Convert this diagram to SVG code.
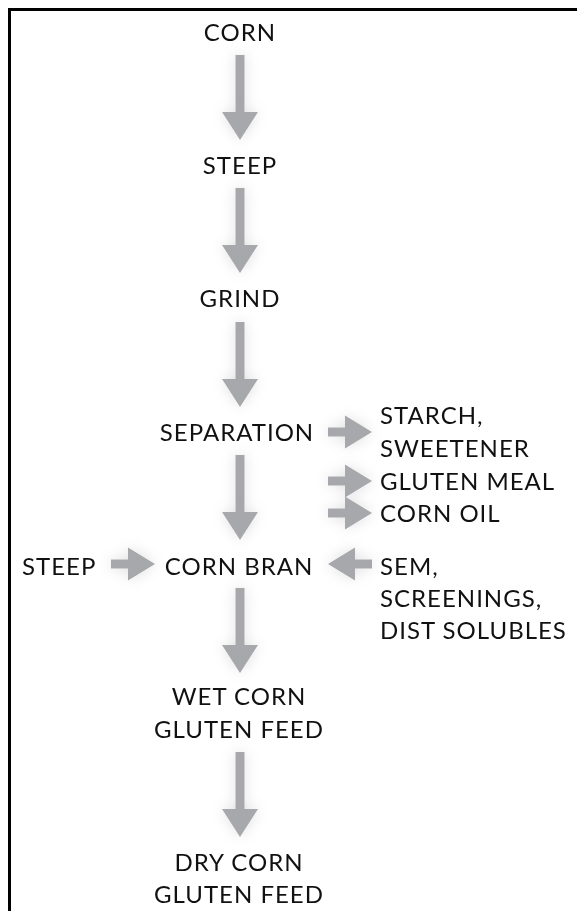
<svg xmlns="http://www.w3.org/2000/svg" xmlns:xlink="http://www.w3.org/1999/xlink" width="577" height="911" viewBox="0 0 577 911">
  <style>
    text { font-family: Lato, "Open Sans", "DejaVu Sans", sans-serif; font-size: 24px; letter-spacing: 1px; fill: #111111; }
    .c { text-anchor: middle; }
    .l { text-anchor: start; }
    .arrow { fill: #a7a8ab; }
  </style>
  <defs>
    <filter id="glow" x="-100%" y="-50%" width="300%" height="200%">
      <feGaussianBlur in="SourceAlpha" stdDeviation="7" result="b"/>
      <feFlood flood-color="#000000" flood-opacity="0.13"/>
      <feComposite in2="b" operator="in" result="s"/>
      <feMerge>
        <feMergeNode in="s"/>
        <feMergeNode in="SourceGraphic"/>
      </feMerge>
    </filter>
    <path id="down" class="arrow" d="M-4.5,0 H4.5 V57 H18 L0,85 L-18,57 H-4.5 Z"/>
    <path id="right" class="arrow" d="M0,-4.5 H17 V-16.5 L44,0 L17,16.5 V4.5 H0 Z"/>
  </defs>
  <rect x="0" y="0" width="577" height="911" fill="#ffffff"/>
  <path d="M9.5,911 V9.5 H577" fill="none" stroke="#000000" stroke-width="3"/>

  <g id="connectors" filter="url(#glow)">
    <use xlink:href="#down" x="240" y="55"/>
    <use xlink:href="#down" x="240" y="188"/>
    <use xlink:href="#down" x="240" y="322"/>
    <use xlink:href="#down" x="240" y="455"/>
    <use xlink:href="#down" x="240" y="588"/>
    <use xlink:href="#down" x="240" y="752"/>
    <use xlink:href="#right" x="328" y="432"/>
    <use xlink:href="#right" x="328" y="481"/>
    <use xlink:href="#right" x="328" y="513"/>
    <use xlink:href="#right" x="111" y="564"/>
    <use xlink:href="#right" transform="translate(372,564) scale(-1,1)"/>
  </g>

  <g id="corn"><text class="c" x="240" y="41">CORN</text></g>
  <g id="steep"><text class="c" x="240" y="174">STEEP</text></g>
  <g id="grind"><text class="c" x="240" y="307">GRIND</text></g>
  <g id="separation"><text class="c" x="237" y="441">SEPARATION</text></g>
  <g id="starch"><text class="l" x="380" y="424">STARCH,</text><text class="l" x="380" y="457">SWEETENER</text></g>
  <g id="gluten-meal"><text class="l" x="380" y="490">GLUTEN MEAL</text></g>
  <g id="corn-oil"><text class="l" x="380" y="522">CORN OIL</text></g>
  <g id="steep-in"><text class="l" x="22" y="575">STEEP</text></g>
  <g id="corn-bran"><text class="c" x="239" y="575">CORN BRAN</text></g>
  <g id="sem"><text class="l" x="380" y="575">SEM,</text><text class="l" x="380" y="607">SCREENINGS,</text><text class="l" x="380" y="639">DIST SOLUBLES</text></g>
  <g id="wet-feed"><text class="c" x="239" y="705">WET CORN</text><text class="c" x="239" y="738">GLUTEN FEED</text></g>
  <g id="dry-feed"><text class="c" x="239" y="871">DRY CORN</text><text class="c" x="239" y="903">GLUTEN FEED</text></g>
</svg>
